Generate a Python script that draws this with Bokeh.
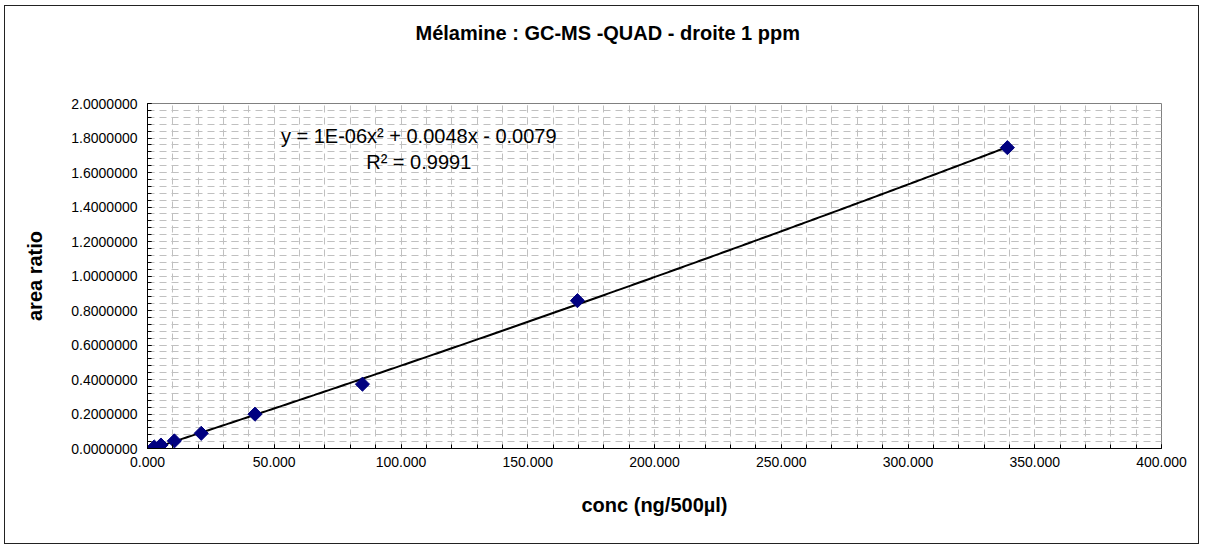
import numpy as np
from bokeh.plotting import figure
from bokeh.models import SingleIntervalTicker, NumeralTickFormatter, Label, Range1d, Title
from bokeh.embed import file_html
from bokeh.resources import INLINE

# ---- data ----
conc = [2.65, 5.3, 10.6, 21.2, 42.4, 84.8, 169.6, 339.2]
area_ratio = [0.009, 0.020, 0.044, 0.088, 0.199, 0.373, 0.857, 1.744]

title_text = "Mélamine : GC-MS -QUAD - droite 1 ppm"
x_label = "conc (ng/500µl)"
y_label = "area ratio"
equation_text = "y = 1E-06x² + 0.0048x - 0.0079"
r2_text = "R² = 0.9991"
x_limits = (0, 400)
y_limits = (0, 2)
x_major = 50
y_major = 0.2

FONT = "Liberation Sans"
GRID = "#c0c0c0"

p = figure(width=1195, height=539, output_backend="svg", toolbar_location=None,
           x_range=Range1d(*x_limits), y_range=Range1d(*y_limits),
           min_border_left=142, min_border_top=97, min_border_right=39, min_border_bottom=97,
           margin=(5, 0, 0, 4),
           styles={"border": "1px solid #222222"})

p.background_fill_color = "white"
p.border_fill_color = "white"
p.outline_line_color = "#808080"
p.outline_line_width = 1
p.title.text = ""

# spacer (closest to the frame) then the real title above it
p.add_layout(Title(text=" ", text_font_size="10px", standoff=47), "above")
p.add_layout(Title(text=title_text, align="left", offset=268, standoff=0,
                   text_font=FONT, text_font_size="20px", text_font_style="bold",
                   text_color="black"), "above")

# axes
p.xaxis.ticker = SingleIntervalTicker(interval=x_major, num_minor_ticks=5)
p.yaxis.ticker = SingleIntervalTicker(interval=y_major, num_minor_ticks=5)
p.xaxis.formatter = NumeralTickFormatter(format="0.000")
p.yaxis.formatter = NumeralTickFormatter(format="0.0000000")
for ax in (p.xaxis, p.yaxis):
    ax.axis_line_color = "black"
    ax.axis_line_width = 1
    ax.major_tick_in = 4
    ax.major_tick_out = 0
    ax.minor_tick_in = 4
    ax.minor_tick_out = 0
    ax.major_tick_line_color = "black"
    ax.minor_tick_line_color = "black"
    ax.major_label_text_font = FONT
    ax.major_label_text_font_size = "14px"
    ax.major_label_text_color = "black"
    ax.axis_label_text_font = FONT
    ax.axis_label_text_font_size = "20px"
    ax.axis_label_text_font_style = "bold"
    ax.axis_label_text_color = "black"
p.xaxis.axis_label = x_label
p.yaxis.axis_label = y_label
p.xaxis.major_label_standoff = 8
p.yaxis.major_label_standoff = 10
p.xaxis.axis_label_standoff = 24
p.yaxis.axis_label_standoff = 22

# grid (major + minor, dashed light gray)
for g in (p.xgrid, p.ygrid):
    g.grid_line_color = GRID
    g.grid_line_dash = "7 5"
    g.grid_line_width = 1
    g.minor_grid_line_color = GRID
    g.minor_grid_line_dash = "7 5"
    g.minor_grid_line_width = 1

# polynomial (order 2) trendline fitted to the data
coef = np.polyfit(conc, area_ratio, 2)
xs = np.linspace(min(conc), max(conc), 300)
p.line(xs, np.polyval(coef, xs), line_color="black", line_width=2)

# data points
p.scatter(conc, area_ratio, marker="square", size=10, angle=np.pi / 4,
          fill_color="#000080", line_color="#000080")

# trendline equation
eq_x = 107.0
p.add_layout(Label(x=eq_x, y=1.81, text=equation_text, text_align="center",
                   text_baseline="middle", text_font=FONT, text_font_size="20px",
                   text_color="black"))
p.add_layout(Label(x=eq_x, y=1.66, text=r2_text, text_align="center",
                   text_baseline="middle", text_font=FONT, text_font_size="20px",
                   text_color="black"))

open("out.html", "w").write(file_html(p, INLINE))
